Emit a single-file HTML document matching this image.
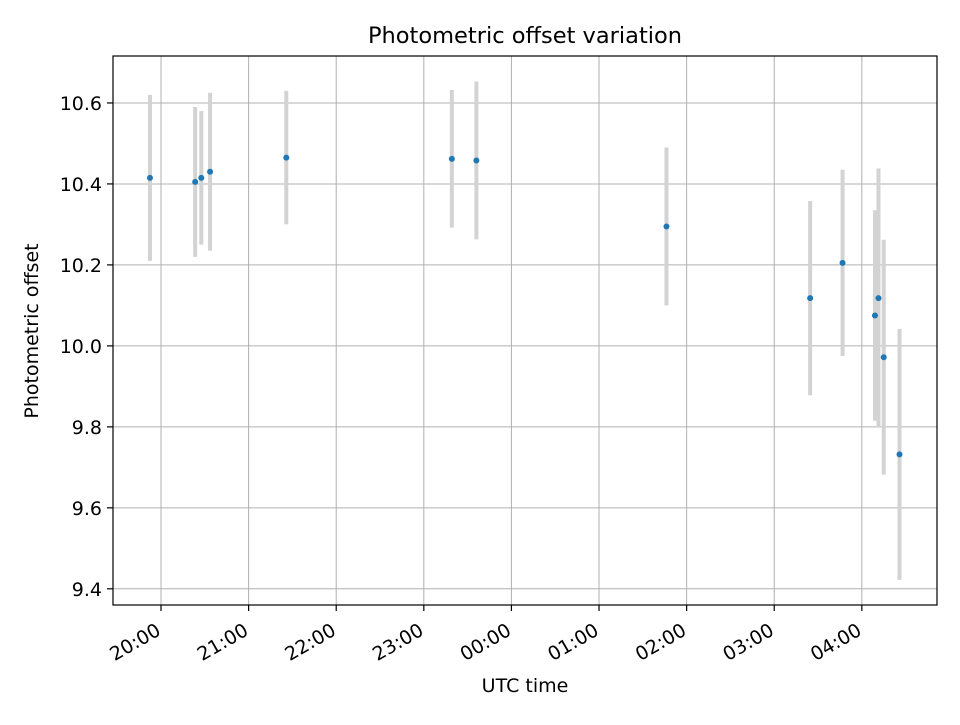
<!DOCTYPE html>
<html><head><meta charset="utf-8"><style>
body{margin:0;background:#fff}
svg{font-family:"DejaVu Sans","Liberation Sans",sans-serif}
</style></head><body>
<svg id="chart" width="960" height="720" viewBox="0 0 960 720">
<rect width="960" height="720" fill="#fff"/>
<text x="525" y="43" font-size="22.5" text-anchor="middle">Photometric offset variation</text>
<g id="grid"></g><g id="marks"></g><g id="axes"></g>
<text x="525" y="692" font-size="19" text-anchor="middle">UTC time</text>
<text transform="translate(38,331) rotate(-90)" font-size="19" text-anchor="middle">Photometric offset</text>
</svg>
<script>
// hours since 20:00 UTC
const times = [-0.126,0.39,0.46,0.56,1.43,3.32,3.60,5.77,7.41,7.78,8.15,8.19,8.25,8.43];
const offsets = [10.415,10.405,10.415,10.43,10.465,10.462,10.458,10.295,10.118,10.205,10.075,10.118,9.972,9.732];
const errors = [0.205,0.185,0.165,0.195,0.165,0.17,0.195,0.195,0.24,0.23,0.26,0.32,0.29,0.31];
const yTicks = [9.4,9.6,9.8,10.0,10.2,10.4,10.6];
const xTicks = [0,1,2,3,4,5,6,7,8];
const xTickLabels = ["20:00","21:00","22:00","23:00","00:00","01:00","02:00","03:00","04:00"];

const L=113,R=937,T=56,B=605;
const xMin=-0.548,xMax=8.858,yMin=9.360,yMax=10.716;
const sx=v=>L+(v-xMin)/(xMax-xMin)*(R-L);
const sy=v=>B-(v-yMin)/(yMax-yMin)*(B-T);
const NS="http://www.w3.org/2000/svg";
function mk(tag,attrs,parent){const e=document.createElementNS(NS,tag);for(const k in attrs)e.setAttribute(k,attrs[k]);parent.appendChild(e);return e;}
const grid=document.getElementById('grid'),marks=document.getElementById('marks'),axes=document.getElementById('axes');

yTicks.forEach(v=>{
  const y=sy(v);
  const g=mk('line',{x1:L,x2:R,y1:y,y2:y,stroke:'#b0b0b0','stroke-width':1},grid);
  
  
  const t=mk('line',{x1:L-6,x2:L,y1:y,y2:y,stroke:'#000','stroke-width':1.2},axes);
  
  
  const tx=mk('text',{x:L-11,y:y+7,'font-size':19,'text-anchor':'end'},axes);
  tx.textContent=v.toFixed(1);
  
  
});
xTicks.forEach((v,i)=>{
  const x=sx(v);
  const g=mk('line',{x1:x,x2:x,y1:T,y2:B,stroke:'#b0b0b0','stroke-width':1},grid);
  
  
  const t=mk('line',{x1:x,x2:x,y1:B,y2:B+6,stroke:'#000','stroke-width':1.2},axes);
  
  
  const tx=mk('text',{x:0,y:0,'font-size':19,'text-anchor':'end',transform:`translate(${x+1},${B+29}) rotate(-30)`},axes);
  tx.textContent=xTickLabels[i];
  
  
});
times.forEach((t,i)=>{
  const x=sx(t);
  const eb=mk('line',{x1:x,x2:x,y1:sy(offsets[i]+errors[i]),y2:sy(offsets[i]-errors[i]),stroke:'#d3d3d3','stroke-width':4},marks);
  
  
});
times.forEach((t,i)=>{
  const p=mk('circle',{cx:sx(t),cy:sy(offsets[i]),r:3,fill:'#1f77b4'},marks);
  
  
});
const frame=mk('rect',{x:L,y:T,width:R-L,height:B-T,fill:'none',stroke:'#000','stroke-width':1.2},axes);


</script>
</body></html>
